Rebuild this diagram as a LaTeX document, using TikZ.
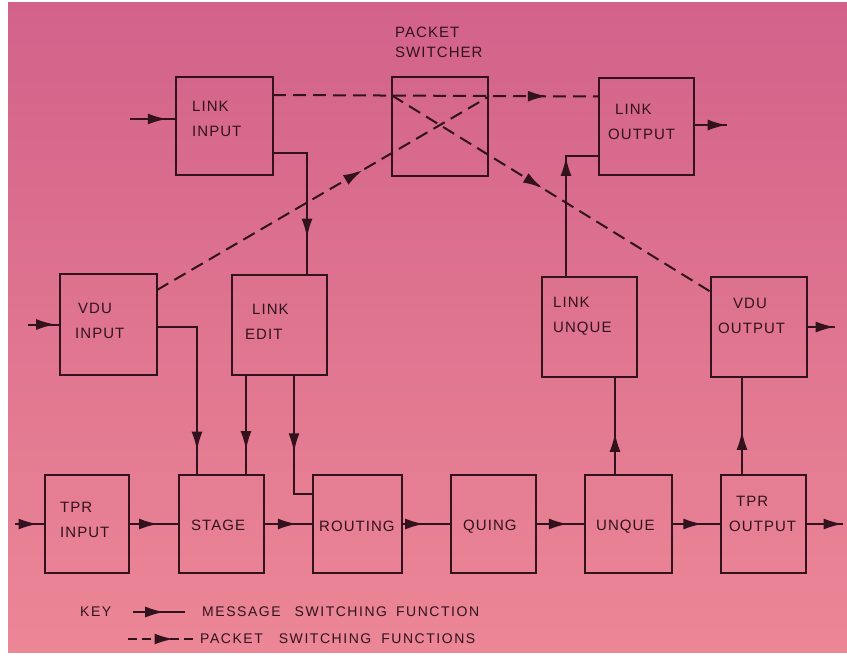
\documentclass[tikz,border=0pt]{standalone}
\usepackage{fontspec}
\setmainfont{Liberation Sans}
\newfontfamily\boxfont[LetterSpace=7]{Liberation Sans}
\newfontfamily\keyfont[LetterSpace=11]{Liberation Sans}
\usetikzlibrary{arrows.meta,decorations.markings}
\definecolor{ink}{RGB}{50,18,28}
\definecolor{bgtop}{RGB}{210,98,138}
\definecolor{bgbot}{RGB}{236,135,150}
\tikzset{
  box/.style={draw=ink, line width=2.2pt, inner sep=0pt, outer sep=0pt, rectangle},
  lbl/.style={text=ink, font=\boxfont\fontsize{15}{25}\selectfont, align=left, inner sep=0pt, anchor=west},
  keylbl/.style={lbl, font=\keyfont\fontsize{14}{20}\selectfont},
  conn/.style={draw=ink, line width=2pt},
  pkt/.style={conn, dash pattern=on 13pt off 7pt},
  tipat/.style={postaction={decorate, decoration={markings, mark=at position #1 with {\arrow{Latex[length=19pt,width=11pt]}}}}},
}
\begin{document}
\begin{tikzpicture}[x=1pt,y=-1pt]
\useasboundingbox (0,0) rectangle (847,657);
\fill[white] (0,0) rectangle (847,657);
\shade[top color=bgtop, bottom color=bgbot] (8,2) rectangle (847,652);

% boxes
\node[box, minimum width=97pt, minimum height=98pt]  (li) at (224.5,126) {};
\node[box, minimum width=96pt, minimum height=99pt]  (ps) at (440,126.5) {};
\node[box, minimum width=95pt, minimum height=97pt]  (lo) at (646.5,126.5) {};
\node[box, minimum width=97pt, minimum height=101pt] (vi) at (108.5,324.5) {};
\node[box, minimum width=95pt, minimum height=100pt] (le) at (279.5,325) {};
\node[box, minimum width=95pt, minimum height=100pt] (lu) at (589.5,327) {};
\node[box, minimum width=96pt, minimum height=100pt] (vo) at (759,327) {};
\node[box, minimum width=84pt, minimum height=98pt]  (ti) at (87,524) {};
\node[box, minimum width=85pt, minimum height=98pt]  (st) at (221.5,524) {};
\node[box, minimum width=89pt, minimum height=98pt]  (ro) at (357.5,524) {};
\node[box, minimum width=85pt, minimum height=98pt]  (qu) at (493.5,524) {};
\node[box, minimum width=87pt, minimum height=98pt]  (un) at (628.5,524) {};
\node[box, minimum width=85pt, minimum height=98pt]  (to) at (763.5,524) {};

% labels
\node[lbl, font=\boxfont\fontsize{15}{20}\selectfont] (ps-t) at (395,42) {PACKET\\SWITCHER};
\node[lbl] (li-t) at (192,118.5) {LINK\\INPUT};
\node[lbl] (lo-t) at (608,121.5) {\hspace*{7pt}LINK\\OUTPUT};
\node[lbl] (vi-t) at (75,320.5) {\hspace*{3pt}VDU\\INPUT};
\node[lbl] (le-t) at (245,322) {\hspace*{7pt}LINK\\EDIT};
\node[lbl] (lu-t) at (553,316) {LINK\\UNQUE};
\node[lbl] (vo-t) at (718,316) {\hspace*{15pt}VDU\\OUTPUT};
\node[lbl] (ti-t) at (60,519.5) {TPR\\INPUT};
\node[lbl] (to-t) at (729,514) {\hspace*{7pt}TPR\\OUTPUT};
\node[lbl] (st-t) at (191,525) {STAGE};
\node[lbl] (ro-t) at (319,526) {ROUTING};
\node[lbl] (qu-t) at (463,527) {QUING};
\node[lbl] (un-t) at (596,527) {UNQUE};

% free ends
\coordinate (li-in) at (130,119);
\coordinate (vi-in) at (28,324.5);
\coordinate (ti-in) at (15,524);
\coordinate (lo-out) at (727,125);
\coordinate (vo-out) at (835,327);
\coordinate (to-out) at (843,524);

% message switching connectors
\draw[conn, tipat=0.8] (li-in) -- ([yshift=7pt]li.west);
\draw[conn, tipat=0.85] (vi-in) -- (vi.west);
\draw[conn, tipat=0.75] (ti-in) -- (ti.west);
\draw[conn, tipat=0.76] ([yshift=-27pt]li.east) -| ([xshift=27.5pt]le.north);
\draw[conn, tipat=0.99] ([yshift=1.5pt]lo.east) -- (lo-out);
\draw[conn, tipat=0.78] ([xshift=-23.5pt]lu.north) |- ([yshift=-29.5pt]lo.west);
\draw[conn, tipat=0.99] (vo.east) -- (vo-out);
\draw[conn, tipat=0.87] ([yshift=-2.5pt]vi.east) -| ([xshift=-24.5pt]st.north);
\draw[conn, tipat=0.75] ([xshift=-33.5pt]le.south) -- ([xshift=24.5pt]st.north);
\draw[conn, tipat=0.56] ([xshift=14.5pt]le.south) |- ([yshift=30pt]ro.west);
\draw[conn, tipat=0.58] (ti.east) -- (st.west);
\draw[conn, tipat=0.67] (st.east) -- (ro.west);
\draw[conn, tipat=0.45] (ro.east) -- (qu.west);
\draw[conn, tipat=0.65] (qu.east) -- (un.west);
\draw[conn, tipat=0.62] (un.east) -- (to.west);
\draw[conn, tipat=0.99] (to.east) -- (to-out);
\draw[conn, tipat=0.43] ([xshift=-13.5pt]un.north) -- ([xshift=25.5pt]lu.south);
\draw[conn, tipat=0.45] ([xshift=-21.5pt]to.north) -- ([xshift=-17pt]vo.south);

% packet switching connectors
\draw[pkt, tipat=0.84] ([yshift=31pt]li.east) -- ([yshift=30pt]lo.west);
\draw[pkt, tipat=0.47] ([yshift=31pt]ps.west) -- ([yshift=35pt]vo.west);
\draw[pkt, tipat=0.62] ([yshift=34.5pt]vi.east) -- ([yshift=29.5pt]ps.east);

% key
\node[keylbl] (key-t) at (80,612) {KEY};
\coordinate (k1a) at (133,612);
\coordinate (k1b) at (185,612);
\coordinate (k2a) at (128,639);
\coordinate (k2b) at (193,639);
\draw[conn, tipat=0.6] (k1a) -- (k1b);
\draw[pkt, dash pattern=on 9pt off 5pt, tipat=0.7] (k2a) -- (k2b);
\node[keylbl] (k1-t) at (202,612) {MESSAGE\hspace{14pt}SWITCHING\hspace{9pt}FUNCTION};
\node[keylbl] (k2-t) at (200,639) {PACKET\hspace{16pt}SWITCHING\hspace{10pt}FUNCTIONS};
\end{tikzpicture}
\end{document}
